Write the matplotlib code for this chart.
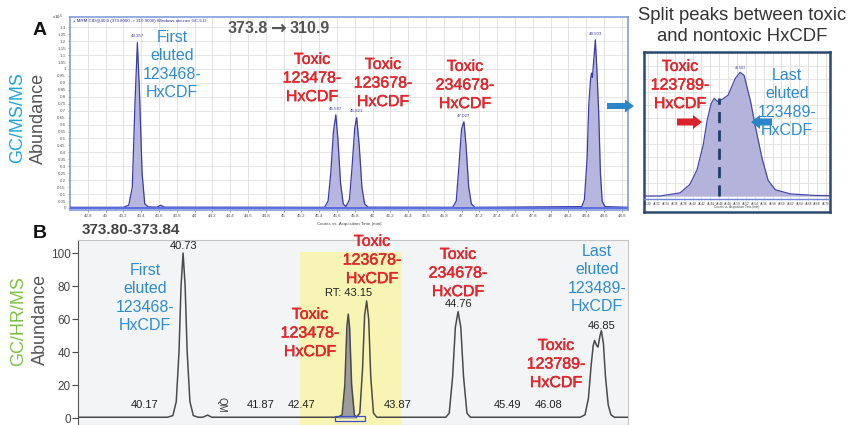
import matplotlib
matplotlib.use('Agg')
import matplotlib.pyplot as plt
import matplotlib.patheffects as pe
from matplotlib.patches import FancyArrow, Rectangle

W, H = 857, 425
SANS = ['Liberation Sans', 'DejaVu Sans']
plt.rcParams['font.family'] = SANS

# ---------------- data ----------------
# Panel A: GC/MS/MS trace (counts x10^5 vs acquisition time, min)
a_trace = [(42.60, 0.005), (43.20, 0.005), (43.26, 0.02), (43.30, 0.15), (43.33, 0.75),
           (43.357, 1.19), (43.38, 0.85), (43.41, 0.25), (43.44, 0.03), (43.48, 0.008),
           (43.58, 0.006), (43.62, 0.02), (43.66, 0.006),
           (45.46, 0.005), (45.50, 0.05), (45.53, 0.25), (45.56, 0.55), (45.587, 0.67),
           (45.61, 0.50), (45.64, 0.18), (45.67, 0.03), (45.70, 0.01),
           (45.74, 0.06), (45.77, 0.30), (45.80, 0.58), (45.821, 0.65), (45.85, 0.45),
           (45.88, 0.15), (45.91, 0.03), (45.95, 0.006),
           (46.90, 0.005), (46.94, 0.05), (46.97, 0.30), (47.00, 0.57), (47.027, 0.62),
           (47.05, 0.45), (47.08, 0.15), (47.11, 0.03), (47.15, 0.005),
           (48.35, 0.01), (48.38, 0.06), (48.41, 0.35), (48.43, 0.75), (48.45, 0.93),
           (48.46, 0.97), (48.47, 0.94), (48.48, 1.02), (48.503, 1.21), (48.52, 1.00),
           (48.54, 0.70), (48.56, 0.25), (48.58, 0.05), (48.61, 0.01), (48.87, 0.005)]
a_peak_rt = [43.357, 45.587, 45.821, 47.027, 48.503]
a_peak_h = [1.19, 0.67, 0.65, 0.62, 1.21]
a_peak_lbl = ['43.357', '45.587', '45.821', '47.027', '48.503']
a_xticks = [round(42.8 + 0.2 * i, 1) for i in range(31)]
a_yticks = [round(0.05 * i, 2) for i in range(27)]

# Inset: zoom of the last eluted split peak
in_trace = [(48.291, 0.0), (48.327, 0.0), (48.372, 0.03), (48.394, 0.11), (48.41, 0.25),
            (48.424, 0.49), (48.433, 0.73), (48.442, 0.89), (48.449, 0.94), (48.456, 0.91),
            (48.467, 0.93), (48.48, 0.97), (48.496, 1.13), (48.507, 1.19), (48.516, 1.16),
            (48.53, 0.92), (48.543, 0.63), (48.557, 0.35), (48.57, 0.15), (48.586, 0.06),
            (48.62, 0.02), (48.675, 0.005), (48.709, 0.003)]
in_split_rt = 48.46
in_xticks = [round(48.30 + 0.02 * i, 2) for i in range(21)]

# Panel B: GC/HR/MS trace (relative abundance vs time, min)
b_trace = [(39.19, 0.5), (40.50, 0.5), (40.58, 1.5), (40.63, 10), (40.67, 40), (40.70, 80),
           (40.73, 100), (40.76, 80), (40.79, 40), (40.83, 10), (40.88, 1.5), (40.95, 0.5),
           (41.02, 0.5), (41.09, 1.8), (41.15, 0.5),
           (43.00, 0.5), (43.06, 2), (43.10, 20), (43.13, 55), (43.15, 63), (43.17, 55),
           (43.20, 20), (43.24, 2), (43.27, 0.5),
           (43.32, 3), (43.36, 30), (43.39, 62), (43.42, 71), (43.45, 60), (43.48, 25),
           (43.52, 3), (43.57, 0.5),
           (44.58, 0.5), (44.63, 3), (44.68, 25), (44.72, 55), (44.76, 64.5), (44.80, 55),
           (44.84, 25), (44.89, 3), (44.94, 0.5),
           (46.55, 0.5), (46.62, 2), (46.67, 12), (46.71, 32), (46.74, 44), (46.76, 47),
           (46.79, 44), (46.81, 43), (46.84, 50), (46.86, 53), (46.89, 45), (46.92, 25),
           (46.96, 8), (47.00, 2), (47.05, 0.5), (47.25, 0.5)]
b_grey_peak = (43.00, 43.27)
b_window = (42.44, 43.94)
b_minor_rt = [40.17, 41.87, 42.47, 43.87, 45.49, 46.08]
b_yticks = [0, 20, 40, 60, 80, 100]

fig = plt.figure(figsize=(W / 100, H / 100), dpi=100)
fig.patch.set_facecolor('white')


def fx(x):
    return x / W


def fy(y):
    return 1 - y / H


BLUE_TXT = '#2f8bd0'
RED_TXT = '#e8252b'

# ---------------- Panel A ----------------
axA = fig.add_axes([fx(70), fy(210), (628 - 70) / W, (210 - 17) / H])
ta, ya = zip(*a_trace)
axA.fill_between(ta, 0, ya, color='#b6b6de', lw=0, zorder=2)
axA.plot(ta, ya, color='#3c3ca8', lw=0.9, zorder=3)
axA.set_xlim(42.60, 48.87)
axA.set_ylim(-0.0144, 1.374)
axA.set_xticks(a_xticks)
axA.set_xticklabels([('%g' % v) for v in a_xticks], fontsize=3.2, color='#333')
axA.set_yticks(a_yticks)
axA.set_yticklabels([('%g' % v) for v in a_yticks], fontsize=3.2, color='#333')
axA.tick_params(length=1.5, width=0.4, pad=1.5, colors='#555')
for v in a_xticks:
    axA.axvline(v, color='#dedede', lw=0.6, zorder=0)
for i in range(14):
    axA.axhline(0.1 * i, color='#e2e2e2', lw=0.6, zorder=0)
for s in axA.spines.values():
    s.set_color('#7f9edc')
    s.set_linewidth(1.2)
axA.axhline(0, color='#5a6ee0', lw=1.4, zorder=4)
for rt, h, lbl in zip(a_peak_rt, a_peak_h, a_peak_lbl):
    axA.text(rt, h + 0.03, lbl, fontsize=3.2, color='#3c3ca8', ha='center', va='bottom')
axA.text(0.005, 0.992, '+ MRM CID@40.0 (373.8000 -> 310.9000) Windows ato-nev GC-5.D',
         transform=axA.transAxes, fontsize=3.2, color='#2a2a9a', va='top', ha='left')
axA.text(-0.012, 1.0, 'x10$^5$', transform=axA.transAxes, fontsize=3.2, color='#333',
         ha='right', va='center')
axA.text(0.5, -0.06, 'Counts vs. Acquisition Time (min)', transform=axA.transAxes,
         fontsize=3.2, color='#444', ha='center', va='top')

# ---------------- Inset ----------------
axI = fig.add_axes([fx(644), fy(212), (830 - 644) / W, (212 - 52) / H])
ti, yi = zip(*in_trace)
axI.fill_between(ti, 0, yi, color='#b3b3dc', lw=0, zorder=2)
axI.plot(ti, yi, color='#4848a8', lw=0.9, zorder=3)
axI.set_xlim(48.291, 48.709)
axI.set_ylim(-0.154, 1.385)
axI.set_xticks([])
axI.set_yticks([])
for v in in_xticks:
    axI.plot([v, v], [-0.04, 1.385], color='#dcdcdc', lw=0.6, zorder=0)
    axI.text(v, -0.075, '%.2f' % v, fontsize=2.2, color='#333', ha='center', va='center')
for i in range(12):
    axI.axhline(0.125 * i, color='#e0e0e0', lw=0.6, zorder=0)
axI.axhline(-0.03, color='#6f86d8', lw=1.0, zorder=4)
axI.text(0.5, 0.02, 'Counts vs. Acquisition Time (min)', transform=axI.transAxes,
         fontsize=2.2, color='#444', ha='center', va='bottom')
axI.text(48.507, 1.21, '48.503', fontsize=2.6, color='#3c3ca8', ha='center', va='bottom')
axI.plot([in_split_rt, in_split_rt], [0.0, 0.94], color='#1d3e66', lw=2.0,
         dashes=(4, 2.6), zorder=5)
for s in axI.spines.values():
    s.set_color('#2a4a6e')
    s.set_linewidth(1.8)

# ---------------- Panel B ----------------
axB = fig.add_axes([fx(78), 0.0, (628 - 78) / W, (425 - 240) / H])
axB.set_facecolor('#f3f4f6')
tb, yb = zip(*b_trace)
axB.set_xlim(39.19, 47.25)
axB.set_ylim(-4.2, 107.9)
axB.fill_between(b_window, -4.2, 100.5, color='#f8f4b4', lw=0, zorder=1)
gx = [t for t in tb if b_grey_peak[0] <= t <= b_grey_peak[1]]
gy = [y for t, y in zip(tb, yb) if b_grey_peak[0] <= t <= b_grey_peak[1]]
axB.fill_between(gx, 0, gy, color='#9c9c9c', lw=0, zorder=2)
axB.plot(tb, yb, color='#4a4a4a', lw=1.1, zorder=3)
axB.add_patch(Rectangle((42.95, -1.8), 0.45, 2.8, fill=False, ec='#3a4fd0', lw=0.9, zorder=4))
axB.set_yticks(b_yticks)
axB.set_yticklabels([str(v) for v in b_yticks], fontsize=8.5, color='#333')
axB.set_xticks([])
axB.tick_params(axis='y', length=4, width=0.8, pad=1, colors='#444')
for s in axB.spines.values():
    s.set_color('#c4c4c4')
    s.set_linewidth(0.8)
axB.spines['left'].set_color('#555')
for rt in b_minor_rt:
    axB.text(rt, 8, '%.2f' % rt, fontsize=8, color='#222', ha='center', va='center')
axB.text(41.30, 8, 'QM', fontsize=7, color='#333', rotation=270, ha='center', va='center')
axB.text(40.73, 101.5, '40.73', fontsize=8, color='#222', ha='center', va='bottom')
axB.text(43.15, 76, 'RT: 43.15', fontsize=8, color='#222', ha='center', va='center')
axB.text(44.76, 69, '44.76', fontsize=8, color='#222', ha='center', va='center')
axB.text(46.87, 56, '46.85', fontsize=8, color='#222', ha='center', va='center')

# ---------------- overlay text / arrows (pixel coordinates) ----------------
ov = fig.add_axes([0, 0, 1, 1], zorder=10)
ov.set_xlim(0, W)
ov.set_ylim(H, 0)
ov.axis('off')

RED_FX = [pe.withStroke(linewidth=0.3, foreground='#c8161c')]


def label(x, y, s, color, size=11.5, weight='normal', ls=1.3, ha='center', fx_=None, fam=SANS):
    ov.text(x, y, s, color=color, fontsize=size, fontweight=weight, ha=ha,
            va='center', linespacing=ls, family=fam, path_effects=fx_)


label(40, 30, 'A', '#111', size=14, weight='bold')
label(40, 233, 'B', '#111', size=14, weight='bold')
label(268, 28, '373.8', '#555', size=11.5, weight='bold', ha='right')
label(279, 28, '\u2192', '#555', size=13.5, weight='bold', fam=['DejaVu Sans'])
label(290, 28, '310.9', '#555', size=11.5, weight='bold', ha='left')
label(131, 230, '373.80-373.84', '#444', size=11, weight='bold')
label(742, 26, 'Split peaks between toxic\nand nontoxic HxCDF', '#333', size=13.3, ls=1.25)

# y labels
ov.text(18, 118, 'GC/MS/MS', color='#1ea2df', fontsize=13, rotation=90, ha='center', va='center')
ov.text(38, 118, 'Abundance', color='#555', fontsize=13, rotation=90, ha='center', va='center')
ov.text(19, 321, 'GC/HR/MS', color='#7dc243', fontsize=13, rotation=90, ha='center', va='center')
ov.text(40, 319, 'Abundance', color='#555', fontsize=13, rotation=90, ha='center', va='center')

# Panel A compound labels
label(172, 65, 'First\neluted\n123468-\nHxCDF', BLUE_TXT)
label(312, 78, 'Toxic\n123478-\nHxCDF', RED_TXT, fx_=RED_FX)
label(383, 83, 'Toxic\n123678-\nHxCDF', RED_TXT, fx_=RED_FX)
label(465, 85, 'Toxic\n234678-\nHxCDF', RED_TXT, fx_=RED_FX)
# Inset labels
label(680, 85, 'Toxic\n123789-\nHxCDF', RED_TXT, fx_=RED_FX)
label(787, 103, 'Last\neluted\n123489-\nHxCDF', BLUE_TXT)
# Panel B labels
label(145, 298, 'First\neluted\n123468-\nHxCDF', BLUE_TXT)
label(310, 333, 'Toxic\n123478-\nHxCDF', RED_TXT, fx_=RED_FX)
label(372, 260, 'Toxic\n123678-\nHxCDF', RED_TXT, fx_=RED_FX)
label(458, 273, 'Toxic\n234678-\nHxCDF', RED_TXT, fx_=RED_FX)
label(597, 279, 'Last\neluted\n123489-\nHxCDF', BLUE_TXT)
label(556, 364, 'Toxic\n123789-\nHxCDF', RED_TXT, fx_=RED_FX)

# arrows
ov.add_patch(FancyArrow(607, 106, 27, 0, width=6, head_width=13, head_length=9,
                        length_includes_head=True, color='#2a86c8', lw=0))
ov.add_patch(FancyArrow(677, 122, 25, 0, width=7, head_width=14, head_length=9,
                        length_includes_head=True, color='#d9232a', lw=0))
ov.add_patch(FancyArrow(772, 122, -21, 0, width=7, head_width=14, head_length=9,
                        length_includes_head=True, color='#2a86c8', lw=0))

fig.savefig('out.png', dpi=100, facecolor='white')
